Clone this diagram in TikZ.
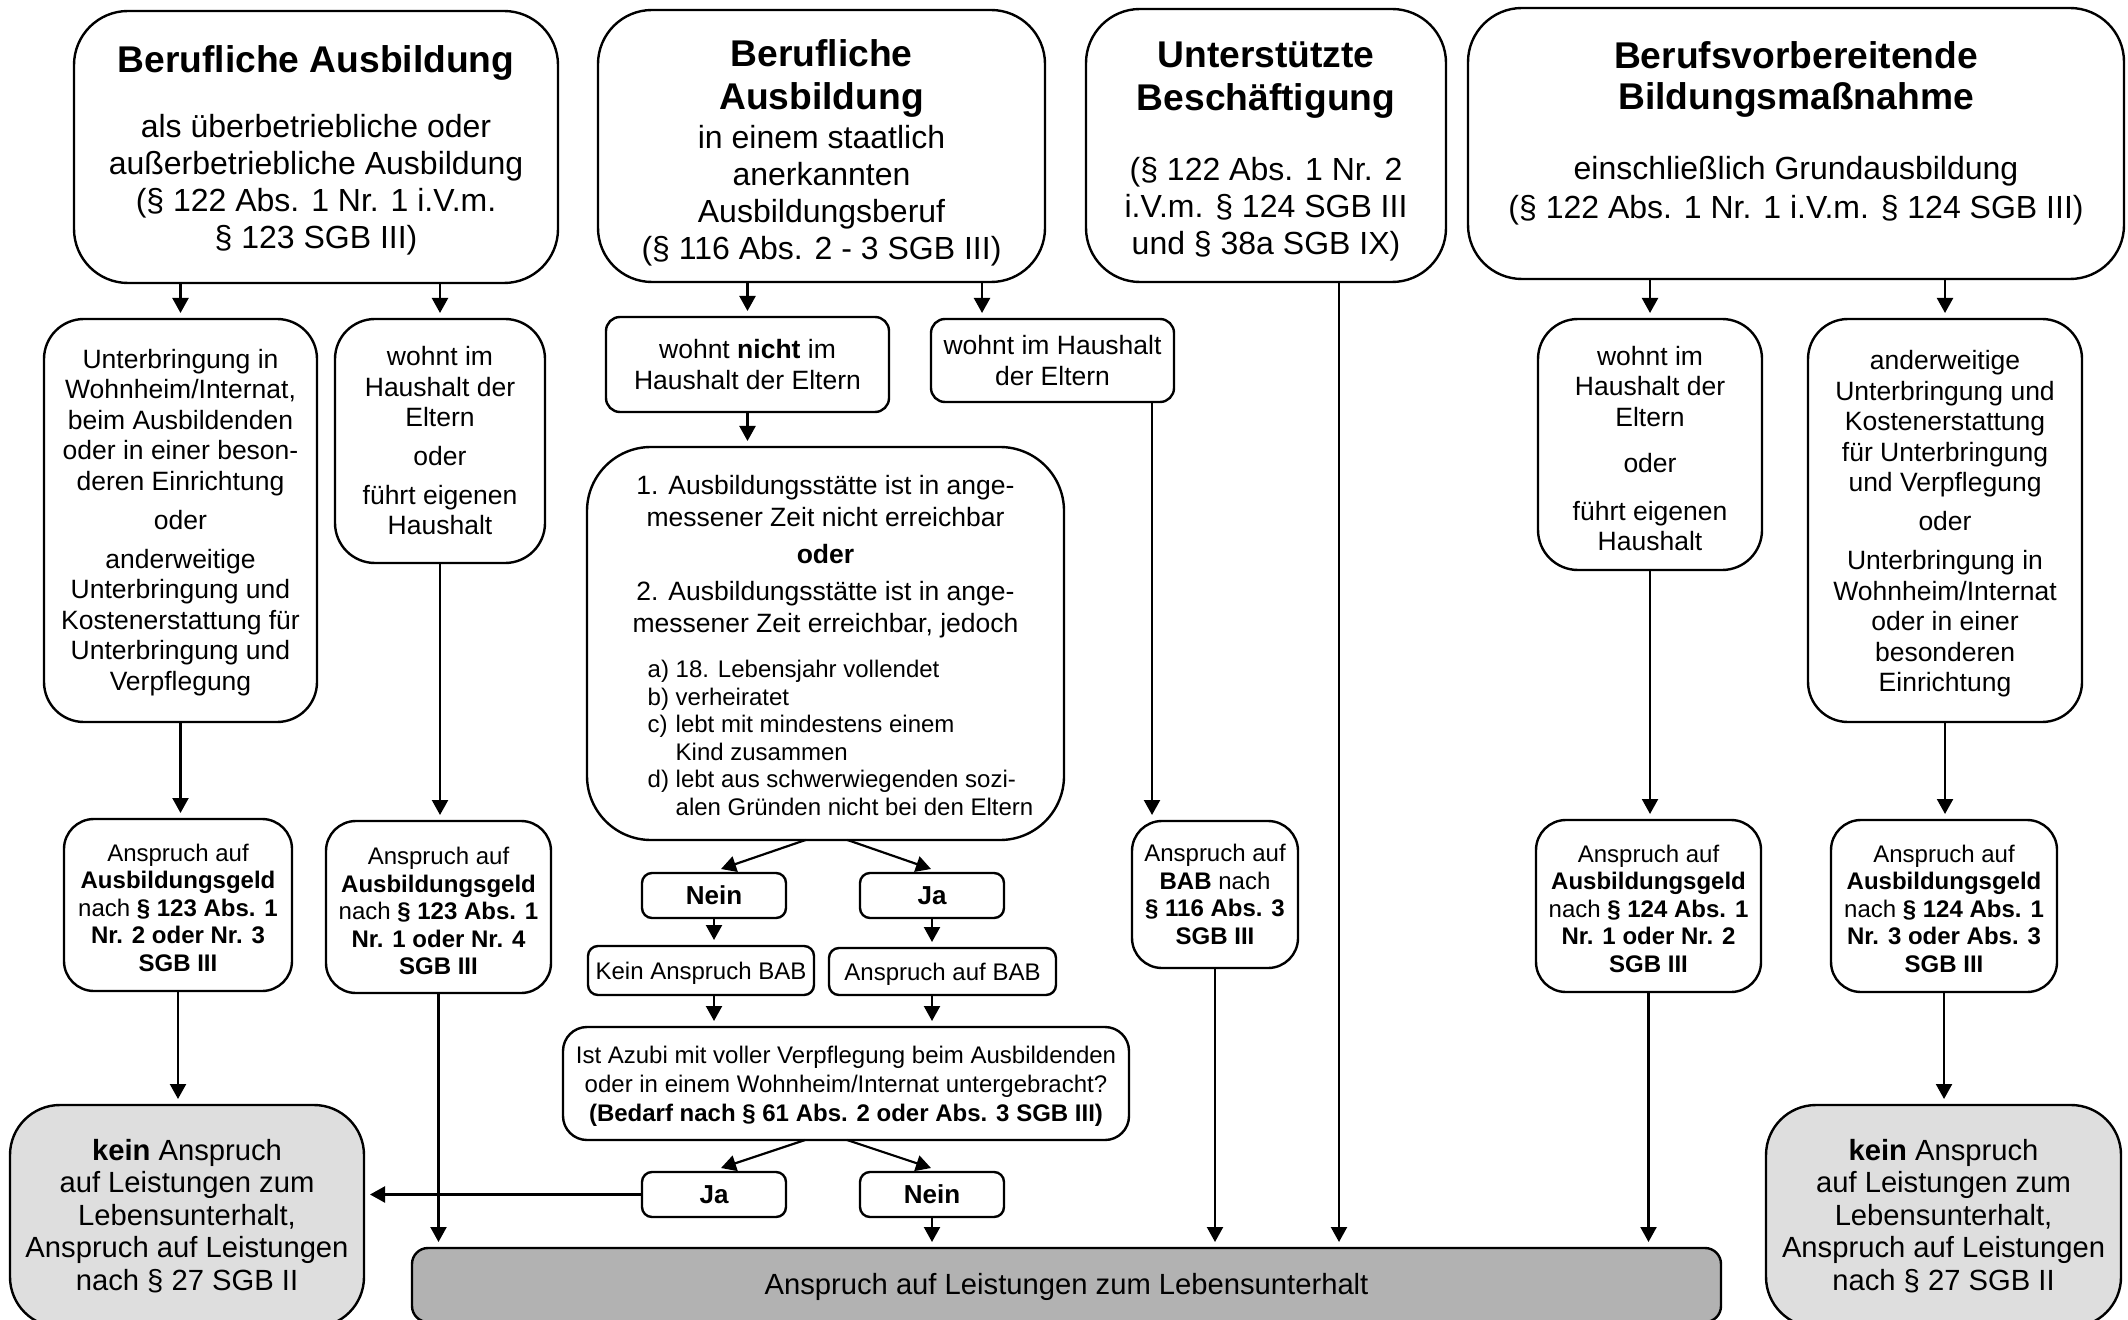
\documentclass[tikz,border=0pt]{standalone}
\usepackage{fontspec}
\setmainfont{Liberation Sans}
\usetikzlibrary{arrows.meta,calc}
\definecolor{lgray}{HTML}{DEDEDE}
\definecolor{dgray}{HTML}{B2B2B2}
\newcommand\fT{\fontsize{18.6pt}{21.5pt}\selectfont\bfseries}
\newcommand\fS{\fontsize{16pt}{18.5pt}\selectfont}
\newcommand\fR{\fontsize{13.25pt}{15.25pt}\selectfont}
\newcommand\fC{\fontsize{13.25pt}{16pt}\selectfont}
\newcommand\fL{\fontsize{12pt}{13.75pt}\selectfont}
\newcommand\fG{\fontsize{14.6pt}{16.25pt}\selectfont}
\newcommand\tp[1]{\rule{0pt}{#1}}
\newcommand\bx[7]{\node[#6,minimum width={(#4-#2)*0.5pt},minimum height={(#5-#3)*0.5pt}] (#1) at ({(#2+#4)/2},{(#3+#5)/2}) {#7};}
\tikzset{
  base/.style={draw, line width=1.2pt, align=center, inner sep=0pt, outer sep=0pt, fill=white},
  topbox/.style={base, rounded corners=27pt, font=\fS},
  rowbox/.style={base, rounded corners=20pt, font=\fR},
  smbox/.style={base, rounded corners=7pt, font=\fR},
  condbox/.style={base, rounded corners=32pt, font=\fC},
  ansbox/.style={base, rounded corners=15pt, font=\fL},
  qbox/.style={base, rounded corners=12pt, font={\fontsize{12pt}{14.5pt}\selectfont}},
  yn/.style={base, rounded corners=5pt, font={\fontsize{13pt}{15pt}\selectfont\bfseries}},
  bab/.style={base, rounded corners=5pt, font=\fL},
  graybox/.style={base, rounded corners=25pt, fill=lgray, font=\fG},
  barbox/.style={base, rounded corners=8pt, fill=dgray, font=\fG},
  arr/.style={-{Triangle[length=7.5pt,width=8pt]}, line width=1.1pt, shorten >=3pt},
  arrd/.style={-{Triangle[length=7.5pt,width=8pt]}, line width=1.1pt}
}
\begin{document}
\begin{tikzpicture}[x=0.5pt,y=-0.5pt]
\useasboundingbox (0,0) rectangle (2128,1320);
% top row
\bx{A}{74}{11}{558}{283}{topbox}{{\fT\tp{17.1pt}Berufliche Ausbildung}\\[14pt]als überbetriebliche oder\\außerbetriebliche Ausbildung\\(§ 122 Abs. 1 Nr. 1 i.V.m.\\§ 123 SGB III)}
\bx{B}{598}{10}{1045}{282}{topbox}{{\fT\tp{20.6pt}Berufliche}\\[3pt]{\fT Ausbildung}\\[1pt]in einem staatlich\\anerkannten\\Ausbildungsberuf\\(§ 116 Abs. 2 - 3 SGB III)}
\bx{C}{1086}{9}{1446}{282}{topbox}{{\fT\tp{19.1pt}Unterstützte}\\[2.75pt]{\fT Beschäftigung}\\[16.75pt](§ 122 Abs. 1 Nr. 2\\i.V.m. § 124 SGB III\\und § 38a SGB IX)}
\bx{D}{1468}{8}{2124}{279}{topbox}{{\fT\tp{17pt}Berufsvorbereitende}\\[2.15pt]{\fT Bildungsmaßnahme}\\[16.5pt]einschließlich Grundausbildung\\[0.85pt](§ 122 Abs. 1 Nr. 1 i.V.m. § 124 SGB III)\rule[-17pt]{0pt}{1pt}}
% second row
\bx{Aleft}{44}{319}{317}{722}{rowbox}{\tp{11.7pt}Unterbringung in\\Wohnheim/Internat,\\beim Ausbildenden\\oder in einer beson-\\deren Einrichtung\\[4.25pt]oder\\[4.25pt]anderweitige\\Unterbringung und\\Kostenerstattung für\\Unterbringung und\\Verpflegung}
\bx{Aright}{335}{319}{545}{563}{rowbox}{wohnt im\\Haushalt der\\Eltern\\[4.25pt]oder\\[4pt]führt eigenen\\Haushalt}
\bx{WN}{606}{317}{889}{412}{smbox}{wohnt \textbf{nicht} im\\[0.5pt]Haushalt der Eltern}
\bx{BR}{931}{319}{1174}{402}{smbox}{wohnt im Haushalt\\der Eltern}
\bx{Dleft}{1538}{319}{1762}{570}{rowbox}{\tp{13.7pt}wohnt im\\Haushalt der\\Eltern\\[7.75pt]oder\\[8.75pt]führt eigenen\\Haushalt}
\bx{Dright}{1808}{319}{2082}{722}{rowbox}{\tp{13.2pt}anderweitige\\Unterbringung und\\Kostenerstattung\\für Unterbringung\\und Verpflegung\\[4.25pt]oder\\[4.25pt]Unterbringung in\\Wohnheim/Internat\\oder in einer\\besonderen\\Einrichtung}
% condition box
\bx{Cond}{587}{447}{1064}{840}{condbox}{\tp{15.7pt}1. Ausbildungsstätte ist in ange-\\messener Zeit nicht erreichbar\\[2.5pt]\textbf{oder}\\[2.5pt]2. Ausbildungsstätte ist in ange-\\messener Zeit erreichbar, jedoch\\[9pt]\hspace*{15pt}{\fL\begin{tabular}{@{}l@{\ }l@{}}a) & 18. Lebensjahr vollendet\\ b) & verheiratet\\ c) & lebt mit mindestens einem\\ & Kind zusammen\\ d) & lebt aus schwerwiegenden sozi-\\ & alen Gründen nicht bei den Eltern\end{tabular}}}
% third row
\bx{A1}{64}{819}{292}{991}{ansbox}{\tp{11.5pt}Anspruch auf\\\textbf{Ausbildungsgeld}\\nach \textbf{§ 123 Abs. 1}\\\textbf{Nr. 2 oder Nr. 3}\\\textbf{SGB III}}
\bx{A2}{326}{821}{551}{993}{ansbox}{\tp{12.8pt}Anspruch auf\\\textbf{Ausbildungsgeld}\\nach \textbf{§ 123 Abs. 1}\\\textbf{Nr. 1 oder Nr. 4}\\\textbf{SGB III}}
\bx{BAB}{1132}{821}{1298}{968}{ansbox}{Anspruch auf\\\textbf{BAB} nach\\\textbf{§ 116 Abs. 3}\\\textbf{SGB III}}
\bx{D1}{1536}{820}{1761}{992}{ansbox}{\tp{11.5pt}Anspruch auf\\\textbf{Ausbildungsgeld}\\nach \textbf{§ 124 Abs. 1}\\\textbf{Nr. 1 oder Nr. 2}\\\textbf{SGB III}}
\bx{D2}{1831}{820}{2057}{992}{ansbox}{\tp{11.5pt}Anspruch auf\\\textbf{Ausbildungsgeld}\\nach \textbf{§ 124 Abs. 1}\\\textbf{Nr. 3 oder Abs. 3}\\\textbf{SGB III}}
% decision chain
\bx{Nein1}{642}{873}{786}{918}{yn}{Nein}
\bx{Ja1}{860}{873}{1004}{918}{yn}{Ja}
\bx{Kein}{588}{946}{814}{995}{bab}{\tp{11.8pt}Kein Anspruch BAB}
\bx{AnsBAB}{829}{948}{1056}{995}{bab}{\tp{11.3pt}Anspruch auf BAB}
\bx{Q}{563}{1027}{1129}{1140}{qbox}{\tp{11.5pt}Ist Azubi mit voller Verpflegung beim Ausbildenden\\oder in einem Wohnheim/Internat untergebracht?\\\textbf{(Bedarf nach § 61 Abs. 2 oder Abs. 3 SGB III)}}
\bx{Ja2}{642}{1172}{786}{1217}{yn}{Ja}
\bx{Nein2}{860}{1172}{1004}{1217}{yn}{Nein}
% bottom
\bx{Gray1}{10}{1105}{364}{1327}{graybox}{\textbf{kein} Anspruch\\auf Leistungen zum\\Lebensunterhalt,\\Anspruch auf Leistungen\\nach § 27 SGB II}
\bx{Gray2}{1766}{1105}{2121}{1327}{graybox}{\textbf{kein} Anspruch\\auf Leistungen zum\\Lebensunterhalt,\\Anspruch auf Leistungen\\nach § 27 SGB II}
\bx{Bar}{412}{1248}{1721}{1322}{barbox}{\tp{12.7pt}Anspruch auf Leistungen zum Lebensunterhalt}
% helper coordinates
\coordinate (xbr) at (982,0);
\coordinate (xbab) at (1152,0);
\coordinate (xc) at (1339,0);
% connectors
\draw[arr] (A.south -| Aleft.north) -- (Aleft.north);
\draw[arr] (A.south -| Aright.north) -- (Aright.north);
\draw[arr] (B.south -| WN.north) -- (WN.north);
\draw[arr] (B.south -| xbr) -- (BR.north -| xbr);
\draw[arr] (WN.south) -- (WN.south |- Cond.north);
\draw[arrd] ($(Cond.south)+(-20,0)$) -- ($(Nein1.north)+(7,-4)$);
\draw[arrd] ($(Cond.south)+(22,0)$) -- ($(Ja1.north)+(-1,-4)$);
\draw[arr] (Nein1.south) -- (Nein1.south |- Kein.north);
\draw[arr] (Ja1.south) -- (Ja1.south |- AnsBAB.north);
\draw[arr] (Kein.south -| Nein1.south) -- (Q.north -| Nein1.south);
\draw[arr] (AnsBAB.south -| Ja1.south) -- (Q.north -| Ja1.south);
\draw[arrd] ($(Q.south -| Nein1.north)+(91,0)$) -- ($(Ja2.north)+(7,-4)$);
\draw[arrd] ($(Q.south -| Ja1.north)+(-85,0)$) -- ($(Nein2.north)+(-1,-4)$);
\draw[arr] (Ja2.west) -- (Ja2.west -| Gray1.east);
\draw[arr] (Nein2.south) -- (Nein2.south |- Bar.north);
\draw[arr] (Aleft.south) -- (Aleft.south |- A1.north);
\draw[arr] (A1.south) -- (A1.south |- Gray1.north);
\draw[arr] (Aright.south) -- (Aright.south |- A2.north);
\draw[arr] (A2.south) -- (A2.south |- Bar.north);
\draw[arr] (BR.south -| xbab) -- (BAB.north -| xbab);
\draw[arr] (BAB.south) -- (BAB.south |- Bar.north);
\draw[arr] (C.south -| xc) -- (Bar.north -| xc);
\draw[arr] (D.south -| Dleft.north) -- (Dleft.north);
\draw[arr] (D.south -| Dright.north) -- (Dright.north);
\draw[arr] (Dleft.south) -- (Dleft.south |- D1.north);
\draw[arr] (D1.south) -- (D1.south |- Bar.north);
\draw[arr] (Dright.south) -- (Dright.south |- D2.north);
\draw[arr] (D2.south) -- (D2.south |- Gray2.north);
\end{tikzpicture}
\end{document}
